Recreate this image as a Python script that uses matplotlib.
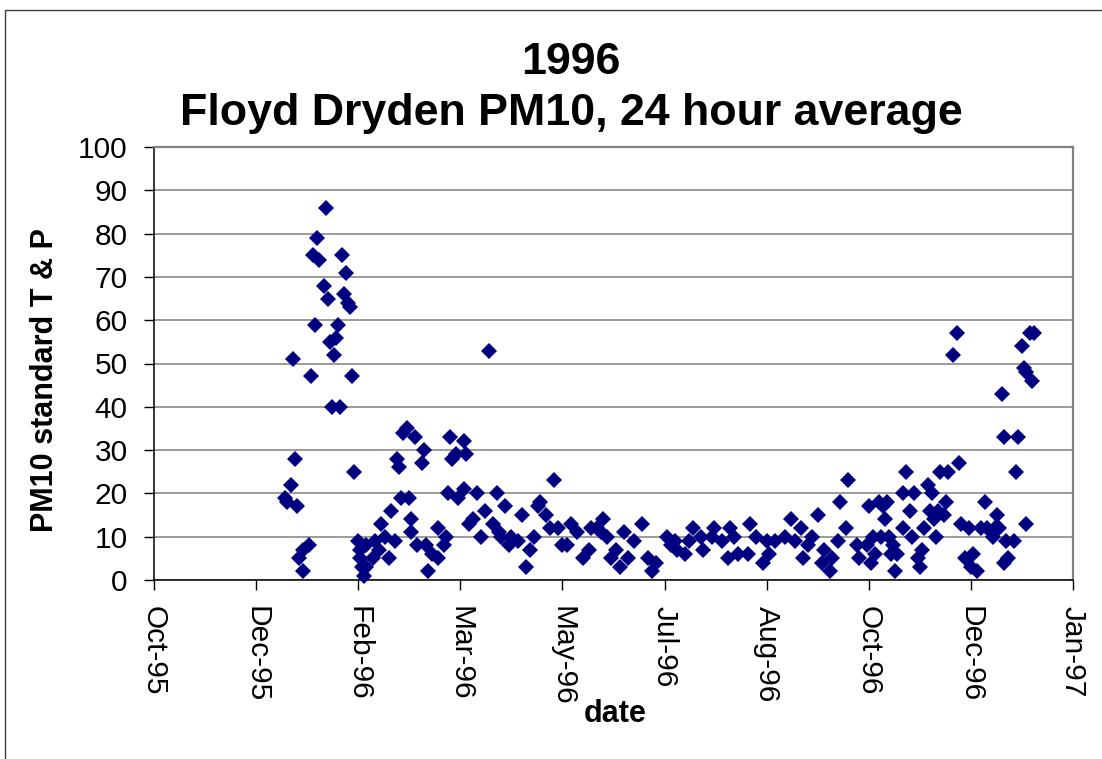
"""Floyd Dryden PM10 24 hour averages for 1996, redrawn as a scatter chart."""

import matplotlib

matplotlib.use("Agg")
import matplotlib.dates as mdates
import matplotlib.pyplot as plt
import numpy as np
from matplotlib.patches import Rectangle

# sample day (days after 1 Jan 1996) and PM10 value at standard T & P
sample_day = [
    -1, 0, 2, 3, 4, 5, 6, 8, 8, 11, 12, 13, 14, 15, 16, 18, 19, 20, 21, 22,
    23, 24, 25, 26, 27, 28, 29, 30, 31, 32, 33, 35, 36, 36, 37, 38, 39, 39, 42, 43,
    45, 46, 48, 50, 51, 53, 54, 55, 56, 57, 59, 60, 61, 61, 63, 64, 66, 67, 68, 69,
    71, 74, 74, 77, 78, 79, 80, 81, 83, 84, 87, 87, 88, 89, 91, 93, 95, 97, 99, 101,
    103, 104, 105, 107, 109, 110, 113, 115, 117, 119, 121, 123, 124, 127, 129, 131, 133, 135, 137, 139,
    142, 145, 148, 149, 152, 154, 155, 157, 159, 161, 163, 165, 167, 170, 174, 177, 179, 181, 186, 188,
    190, 191, 195, 197, 199, 203, 204, 208, 209, 213, 216, 217, 219, 221, 226, 227, 230, 233, 235, 236,
    239, 244, 247, 249, 252, 253, 255, 257, 260, 262, 263, 266, 267, 270, 271, 274, 275, 279, 280, 284,
    285, 286, 287, 288, 290, 291, 292, 293, 294, 295, 296, 297, 298, 299, 302, 302, 303, 305, 306, 307,
    309, 310, 311, 312, 314, 315, 316, 317, 318, 319, 320, 322, 323, 324, 326, 328, 329, 330, 332, 334,
    335, 336, 338, 340, 342, 343, 346, 347, 348, 349, 350, 351, 351, 352, 353, 356, 357, 358, 360, 361,
    362, 362, 364, 365, 366,
]
pm10 = [
    19, 18, 22, 51, 28, 17, 5, 7, 2, 8, 47, 75, 59, 79, 74, 68, 86, 65, 55, 40,
    52, 56, 59, 40, 75, 66, 71, 64, 63, 47, 25, 9, 7, 5, 3, 1, 3, 8, 5, 9,
    7, 13, 10, 5, 16, 9, 28, 26, 19, 34, 35, 19, 14, 11, 33, 8, 27, 30, 8, 2,
    6, 5, 12, 8, 10, 20, 33, 28, 29, 19, 32, 21, 29, 13, 14, 20, 10, 16, 53, 13,
    20, 11, 10, 17, 8, 10, 9, 15, 3, 7, 10, 17, 18, 15, 12, 23, 12, 8, 8, 13,
    11, 5, 7, 12, 12, 11, 14, 10, 5, 7, 3, 11, 5, 9, 13, 5, 2, 4, 10, 8,
    9, 7, 6, 9, 12, 10, 7, 10, 12, 9, 5, 12, 10, 6, 6, 13, 10, 4, 9, 6,
    9, 10, 14, 9, 12, 5, 8, 10, 15, 4, 7, 2, 5, 9, 18, 12, 23, 8, 5, 8,
    17, 4, 10, 6, 18, 10, 17, 14, 18, 10, 6, 8, 2, 6, 12, 20, 25, 16, 10, 20,
    5, 3, 7, 12, 22, 16, 20, 14, 10, 16, 25, 15, 18, 25, 52, 57, 27, 13, 5, 12,
    3, 6, 2, 12, 18, 12, 10, 12, 15, 12, 43, 33, 4, 9, 5, 9, 25, 33, 54, 49,
    13, 48, 57, 46, 57,
]

# Excel-style date axis: serial 35000 (28 Oct 1995) to 35450 in 50 day steps
axis_start = np.datetime64("1995-10-28")
axis_step_days = 50
axis_steps = 9

dates = np.datetime64("1996-01-01") + np.array(sample_day).astype("timedelta64[D]")
tick_dates = axis_start + (np.arange(axis_steps + 1) * axis_step_days).astype("timedelta64[D]")

plt.rcParams["font.family"] = ["Liberation Sans", "DejaVu Sans"]

fig = plt.figure(figsize=(11.02, 7.59), dpi=100)
ax = fig.add_axes([154 / 1102, 1 - 580 / 759, 919 / 1102, 433 / 759])

ax.plot(dates, pm10, linestyle="none", marker="D", ms=8.4, color="#000080",
        markeredgewidth=0, clip_on=False, zorder=3)

ax.set_xlim(tick_dates[0], tick_dates[-1])
ax.set_xticks(tick_dates)
ax.xaxis.set_major_formatter(mdates.DateFormatter("%b-%y"))
ax.set_ylim(0, 100)
ax.set_yticks(np.arange(0, 101, 10))

ax.yaxis.grid(True, color="#808080", lw=1.1)
ax.set_axisbelow(True)
for side in ("top", "right"):
    ax.spines[side].set_color("#808080")
    ax.spines[side].set_linewidth(1.6)
for side in ("left", "bottom"):
    ax.spines[side].set_color("black")
    ax.spines[side].set_linewidth(1.1)

ax.tick_params(axis="x", direction="out", length=7, width=1, pad=12,
               labelsize=21.5, labelrotation=-90)
ax.tick_params(axis="y", direction="out", length=7, width=1, pad=12,
               labelsize=21.5)
for label in ax.get_xticklabels():
    label.set_ha("center")
    label.set_va("top")

ax.set_xlabel("date", fontsize=22, fontweight="bold", va="center")
ax.xaxis.set_label_coords((615 - 154) / 919, (580 - 714) / 433)
ax.set_ylabel("PM10 standard T & P", fontsize=22, fontweight="bold", va="center")
ax.yaxis.set_label_coords((45 - 154) / 919, (580 - 380) / 433)

fig.text(571 / 1102, 1 - 62 / 759, "1996", ha="center", va="center",
         fontsize=32.2, fontweight="bold")
fig.text(571 / 1102, 1 - 113 / 759, "Floyd Dryden PM10, 24 hour average",
         ha="center", va="center", fontsize=32.2, fontweight="bold")

# outer chart-area border as in the spreadsheet export
fig.patches.append(Rectangle((5 / 1102, -0.1), 1.2, 1.1 - 10 / 759,
                             transform=fig.transFigure, fill=False,
                             edgecolor="#404040", lw=1.0))

fig.savefig("out.png", dpi=100, facecolor="white")
plt.close(fig)
